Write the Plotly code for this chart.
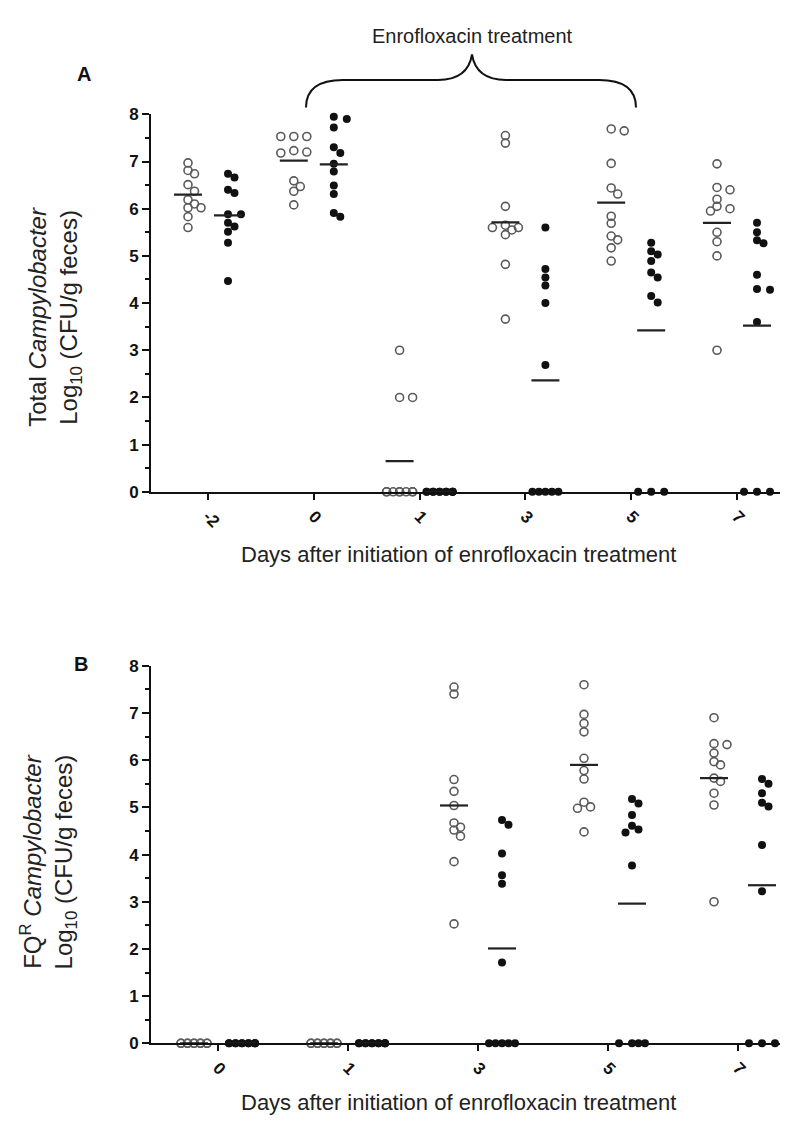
import numpy as np
import plotly.graph_objects as go

W, H = 792, 1121
FONT = "Liberation Sans"

# ---------------- Panel A data (Total Campylobacter) ----------------
a_days = ["-2", "0", "1", "3", "5", "7"]
a_open_values = [
    [6.97, 6.81, 6.74, 6.51, 6.37, 6.19, 6.10, 6.02, 6.02, 5.83, 5.60],
    [7.53, 7.53, 7.53, 7.23, 7.20, 7.18, 6.59, 6.47, 6.37, 6.08],
    [3.00, 2.00, 2.00, 0, 0, 0, 0, 0, 0, 0, 0],
    [7.55, 7.39, 6.05, 5.65, 5.60, 5.60, 5.55, 5.45, 4.82, 3.66],
    [7.69, 7.65, 6.96, 6.44, 6.31, 5.84, 5.69, 5.42, 5.34, 5.17, 4.89],
    [6.95, 6.45, 6.40, 6.20, 6.05, 6.00, 5.95, 5.50, 5.30, 5.00, 3.00],
]
a_filled_values = [
    [6.74, 6.66, 6.40, 6.33, 5.88, 5.88, 5.70, 5.62, 5.51, 5.28, 4.47],
    [7.95, 7.90, 7.72, 7.30, 7.18, 6.95, 6.79, 6.49, 6.31, 5.91, 5.83],
    [0, 0, 0, 0, 0, 0, 0, 0, 0, 0, 0],
    [5.60, 4.72, 4.54, 4.37, 4.00, 2.69, 0, 0, 0, 0, 0],
    [5.28, 5.10, 5.03, 4.89, 4.65, 4.54, 4.15, 4.01, 0, 0, 0],
    [5.70, 5.50, 5.33, 5.27, 4.60, 4.30, 4.28, 3.60, 0, 0, 0],
]
a_open_mean = [6.30, 7.02, 0.65, 5.71, 6.13, 5.70]
a_filled_mean = [5.86, 6.94, 0.00, 2.36, 3.42, 3.52]

# ---------------- Panel B data (FQR Campylobacter) ----------------
b_days = ["0", "1", "3", "5", "7"]
b_open_values = [
    [0, 0, 0, 0, 0, 0, 0, 0, 0, 0],
    [0, 0, 0, 0, 0, 0, 0, 0, 0, 0],
    [7.55, 7.40, 5.59, 5.34, 5.04, 4.67, 4.58, 4.52, 4.39, 3.85, 2.53],
    [7.60, 6.97, 6.78, 6.60, 6.04, 5.78, 5.60, 5.11, 5.01, 4.98, 4.48],
    [6.90, 6.35, 6.33, 6.15, 5.97, 5.90, 5.62, 5.55, 5.30, 5.05, 3.00],
]
b_filled_values = [
    [0, 0, 0, 0, 0, 0, 0, 0, 0, 0, 0],
    [0, 0, 0, 0, 0, 0, 0, 0, 0, 0, 0],
    [4.73, 4.63, 4.02, 3.56, 3.38, 1.71, 0, 0, 0, 0, 0],
    [5.18, 5.08, 4.84, 4.61, 4.53, 4.47, 3.77, 0, 0, 0, 0],
    [5.60, 5.50, 5.30, 5.10, 5.02, 4.20, 3.22, 0, 0, 0],
]
b_open_mean = [0.00, 0.00, 5.04, 5.90, 5.62]
b_filled_mean = [0.00, 0.00, 2.01, 2.96, 3.35]

y_ticks = [0, 1, 2, 3, 4, 5, 6, 7, 8]

# ---------------- layout geometry (pixels) ----------------
AX_L, AX_R = 143, 772
A_TOP, A_BOT = 99, 483
B_TOP, B_BOT = 660, 1044
A_C0, A_SP = 200.0, 105.8   # first group centre, group spacing
B_C0, B_SP = 210.0, 130.0
A_SIDE, B_SIDE = 20.0, 24.0
PPU_Y = 48.0


def fx(px):
    return px / W


def fy(py):
    return 1 - py / H


def swarm_offsets(vals, step=6.5, diam=7.0, kmax=2):
    vals = np.asarray(vals, float)
    order = np.argsort(-vals, kind="stable")
    cands = [0]
    for k in range(1, kmax + 1):
        cands += [k, -k]
    placed = []
    out = np.zeros(len(vals))
    for idx in order:
        py = vals[idx] * PPU_Y
        best, bestpen = None, None
        for k in cands:
            dx = k * step
            pen = 0.0
            for qx, qy in placed:
                d = np.hypot(dx - qx, py - qy)
                if d < diam:
                    pen += diam - d
            if pen == 0:
                best = dx
                break
            if bestpen is None or pen < bestpen:
                best, bestpen = dx, pen
        out[idx] = best
        placed.append((best, py))
    return out


fig = go.Figure()


def add_panel(groups_open, groups_filled, mean_open, mean_filled, sp, side, xa, ya):
    side_u = side / sp
    for vals_list, side_sign, filled in ((groups_open, -1, False), (groups_filled, 1, True)):
        xs, ys = [], []
        for i, vals in enumerate(vals_list):
            offs = swarm_offsets(vals)
            for v, o in zip(vals, offs):
                xs.append(i + side_sign * side_u + o / sp)
                ys.append(v)
        if filled:
            marker = dict(symbol="circle", size=8, color="#111111", line=dict(width=0))
        else:
            marker = dict(symbol="circle-open", size=8, color="#5a5a5a", line=dict(width=1.6, color="#5a5a5a"))
        fig.add_trace(go.Scatter(x=xs, y=ys, mode="markers", marker=marker, xaxis=xa, yaxis=ya,
                                 cliponaxis=False, showlegend=False, hoverinfo="skip"))
    half = 14.0 / sp
    lx, ly = [], []
    for i, m in enumerate(mean_open):
        c = i - side_u
        lx += [c - half, c + half, None]
        ly += [m, m, None]
    for i, m in enumerate(mean_filled):
        c = i + side_u
        lx += [c - half, c + half, None]
        ly += [m, m, None]
    fig.add_trace(go.Scatter(x=lx, y=ly, mode="lines", line=dict(color="#222222", width=2.2),
                             xaxis=xa, yaxis=ya, cliponaxis=False, showlegend=False, hoverinfo="skip"))


add_panel(a_open_values, a_filled_values, a_open_mean, a_filled_mean, A_SP, A_SIDE, "x", "y")
add_panel(b_open_values, b_filled_values, b_open_mean, b_filled_mean, B_SP, B_SIDE, "x2", "y2")

tickfont = dict(family=FONT, size=17, color="#111111", weight="bold")
common_x = dict(showline=True, linewidth=2, linecolor="#111111", ticks="outside", ticklen=6,
                tickwidth=2, tickcolor="#111111", showgrid=False, zeroline=False,
                tickangle=45, tickfont=tickfont, fixedrange=True)
common_y = dict(showline=True, linewidth=2, linecolor="#111111", ticks="outside", ticklen=7,
                tickwidth=2, tickcolor="#111111", showgrid=False, zeroline=False,
                tickfont=tickfont, range=[0, 8], tickvals=y_ticks,
                minor=dict(tickvals=[t + 0.5 for t in y_ticks[:-1]], ticks="outside", ticklen=4,
                           tickwidth=2, tickcolor="#111111", showgrid=False))

fig.update_layout(
    width=W, height=H, margin=dict(l=0, r=0, t=0, b=0),
    paper_bgcolor="white", plot_bgcolor="white",
    xaxis=dict(domain=[fx(AX_L), fx(AX_R)],
               range=[(AX_L - A_C0) / A_SP, (AX_R - A_C0) / A_SP],
               tickvals=list(range(len(a_days))), ticktext=a_days, anchor="y", **common_x),
    yaxis=dict(domain=[fy(A_BOT), fy(A_TOP)], anchor="x", **common_y),
    xaxis2=dict(domain=[fx(AX_L), fx(AX_R)],
                range=[(AX_L - B_C0) / B_SP, (AX_R - B_C0) / B_SP],
                tickvals=list(range(len(b_days))), ticktext=b_days, anchor="y2", **common_x),
    yaxis2=dict(domain=[fy(B_BOT), fy(B_TOP)], anchor="x2", **common_y),
)

xt = dict(family=FONT, size=22, color="#222222")
yt = dict(family=FONT, size=24, color="#222222")
ann = [
    dict(text="Enrofloxacin treatment", x=fx(464), y=fy(19), font=dict(family=FONT, size=20, color="#222222")),
    dict(text="<b>A</b>", x=fx(76), y=fy(58), font=dict(family=FONT, size=20, color="#111111")),
    dict(text="<b>B</b>", x=fx(73), y=fy(658), font=dict(family=FONT, size=20, color="#111111")),
    dict(text="Days after initiation of enrofloxacin treatment", x=fx(450), y=fy(547), font=xt),
    dict(text="Days after initiation of enrofloxacin treatment", x=fx(450), y=fy(1104), font=xt),
    dict(text="Total <i>Campylobacter</i><br>Log<sub>10</sub> (CFU/g feces)", x=fx(47), y=fy(305),
         textangle=-90, font=yt),
    dict(text="FQ<sup>R</sup> <i>Campylobacter</i><br>Log<sub>10</sub> (CFU/g feces)", x=fx(40), y=fy(860),
         textangle=-90, font=yt),
]
for a in ann:
    a.update(xref="paper", yref="paper", showarrow=False, xanchor="center", yanchor="middle")
    fig.add_annotation(**a)

# curly brace over the treatment period
path = (f"M {fx(298)},{fy(92)} Q {fx(298)},{fy(64)} {fx(335)},{fy(64)} "
        f"L {fx(430)},{fy(64)} Q {fx(460)},{fy(64)} {fx(464)},{fy(38)} "
        f"Q {fx(468)},{fy(64)} {fx(498)},{fy(64)} L {fx(591)},{fy(64)} "
        f"Q {fx(628)},{fy(64)} {fx(628)},{fy(92)}")
fig.add_shape(type="path", path=path, xref="paper", yref="paper",
              line=dict(color="#111111", width=2))

fig.write_html("out.html")
